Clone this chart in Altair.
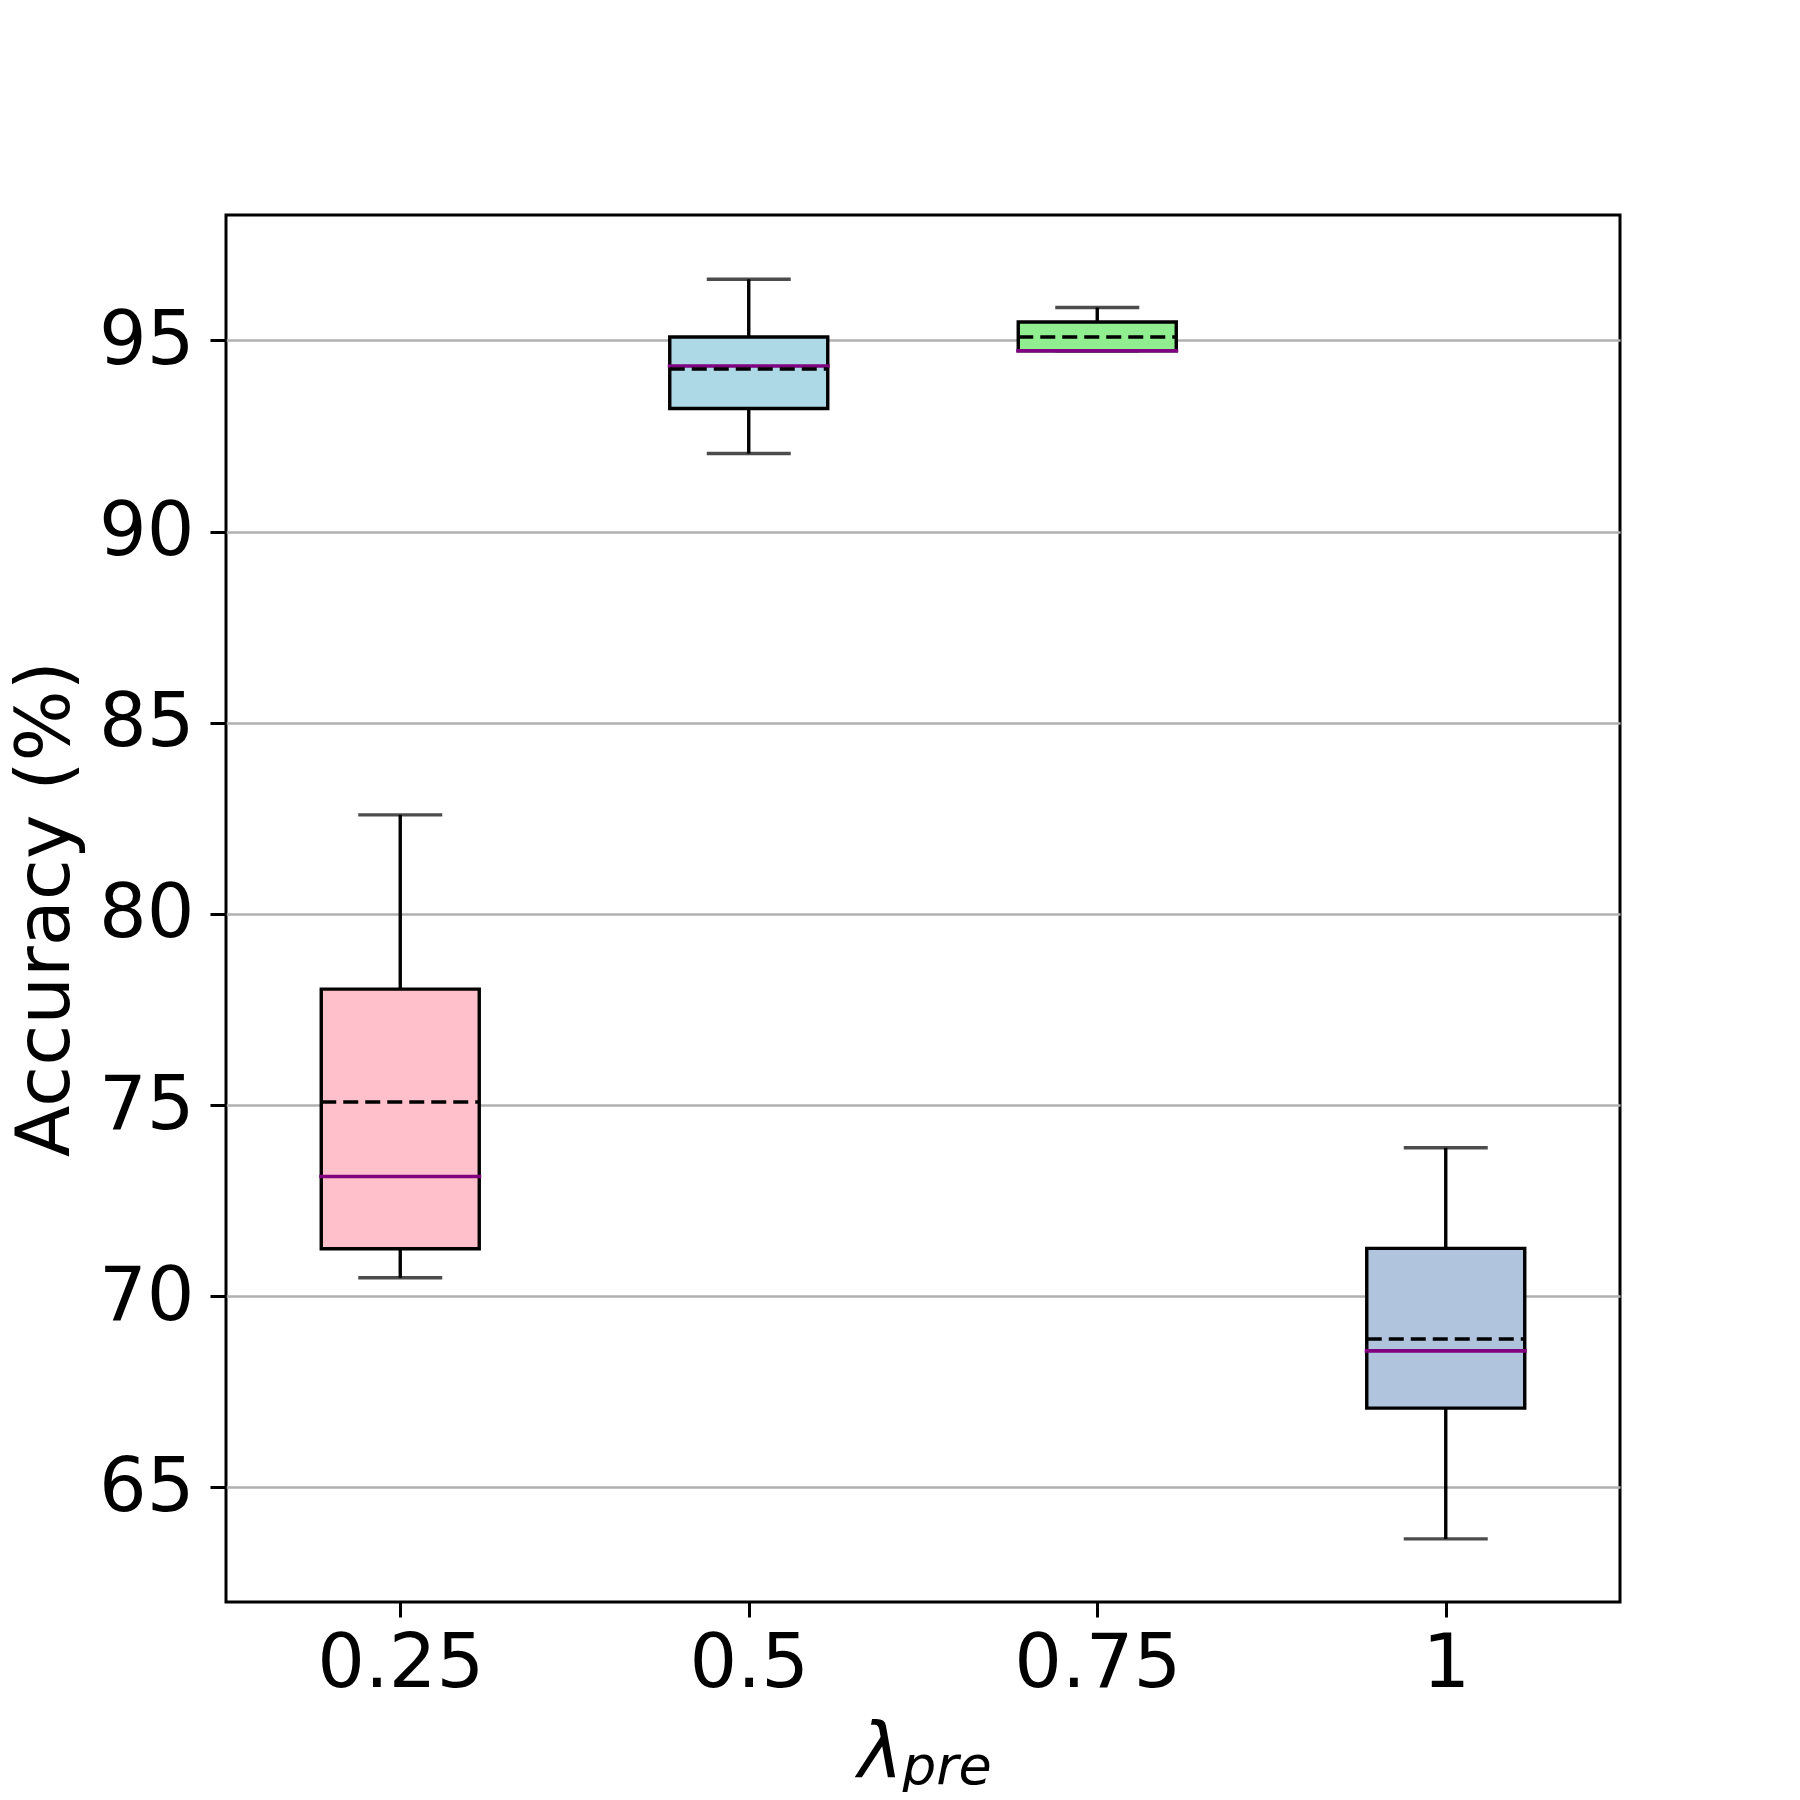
import altair as alt
import pandas as pd

# ---- data ----
lams = [0.25, 0.5, 0.75, 1.0]
whisk_lo = [70.48, 92.04, 94.73, 63.65]
q1 = [71.24, 93.22, 94.73, 67.07]
median = [73.13, 94.33, 94.73, 68.57]
mean = [75.08, 94.25, 95.09, 68.88]
q3 = [78.03, 95.09, 95.48, 71.25]
whisk_hi = [82.59, 96.60, 95.86, 73.88]
box_colors = ["#FFC0CB", "#ADD8E6", "#90EE90", "#B0C4DE"]
y_ticks = [65, 70, 75, 80, 85, 90, 95]
y_title = "Accuracy (%)"
x_title_main = ["λ"]
x_title_sub = ["pre"]

df = pd.DataFrame({
    "lam": lams, "lo": whisk_lo, "q1": q1, "med": median,
    "mean": mean, "q3": q3, "hi": whisk_hi,
})

FONT = "DejaVu Sans"
W, H = 1394, 1387

x_enc = alt.X("lam:Q",
              scale=alt.Scale(domain=[0.125, 1.125], nice=False, zero=False, padding=0),
              axis=alt.Axis(values=lams, format="~g", grid=False, domain=False,
                            ticks=True, tickSize=15, tickWidth=3, tickColor="black",
                            labelFontSize=75, labelFont=FONT, labelColor="black",
                            labelPadding=10, labelFlush=False),
              title=None)
y_scale = alt.Scale(domain=[62.0, 98.28], nice=False, zero=False)
y_axis = alt.Axis(values=y_ticks, format="d", grid=True, gridColor="#b0b0b0",
                  gridWidth=2.5, domain=False, tickSize=16, tickWidth=3,
                  tickColor="black", labelFontSize=75, labelFont=FONT,
                  labelColor="black", labelPadding=16,
                  title=y_title, titleFont=FONT, titleFontSize=75,
                  titleFontWeight="normal", titleColor="black",
                  titleAngle=270, titleAlign="center", titleBaseline="alphabetic",
                  titleX=-158, titleY=693.5)

base = alt.Chart(df)

LW = 3.4
whisk_up = base.mark_rule(color="black", strokeWidth=LW).encode(
    x=x_enc, y=alt.Y("q3:Q", scale=y_scale, axis=y_axis), y2="hi:Q")
whisk_dn = base.mark_rule(color="black", strokeWidth=LW).encode(
    x="lam:Q", y="lo:Q", y2="q1:Q")
cap_hi = base.mark_tick(color="black", orient="horizontal", size=84, thickness=LW).encode(
    x="lam:Q", y="hi:Q")
cap_lo = base.mark_tick(color="black", orient="horizontal", size=84, thickness=LW).encode(
    x="lam:Q", y="lo:Q")
boxes = base.mark_bar(size=158, stroke="black", strokeWidth=LW).encode(
    x="lam:Q", y="q1:Q", y2="q3:Q",
    color=alt.Color("lam:N", scale=alt.Scale(domain=lams, range=box_colors), legend=None))
med = base.mark_tick(color="#800080", orient="horizontal", size=162, thickness=3.6,
                     opacity=1).encode(
    x="lam:Q", y="med:Q")
mean_line = base.mark_rule(color="black", strokeWidth=3.6, strokeDash=[15, 7],
                           xOffset=-79, x2Offset=79).encode(
    x="lam:Q", x2="lam:Q", y="mean:Q")

t_main = alt.Chart(pd.DataFrame({"t": x_title_main})).mark_text(
    font=FONT, fontSize=76, fontStyle="italic", align="left", baseline="alphabetic",
    color="black").encode(x=alt.value(632), y=alt.value(1562), text="t:N")
t_sub = alt.Chart(pd.DataFrame({"t": x_title_sub})).mark_text(
    font=FONT, fontSize=54, fontStyle="italic", align="left", baseline="alphabetic",
    color="black").encode(x=alt.value(676), y=alt.value(1569), text="t:N")

chart = alt.layer(
    whisk_up, whisk_dn, cap_hi, cap_lo, boxes, med, mean_line, t_main, t_sub
).properties(
    width=W, height=H,
    autosize=alt.AutoSizeParams(type="none"),
    padding={"left": 218, "top": 207, "right": 172, "bottom": 190},
).configure(
    background="white"
).configure_view(
    stroke="black", strokeWidth=3
)

chart.save("out.html", embed_options={"renderer": "svg", "actions": False})
